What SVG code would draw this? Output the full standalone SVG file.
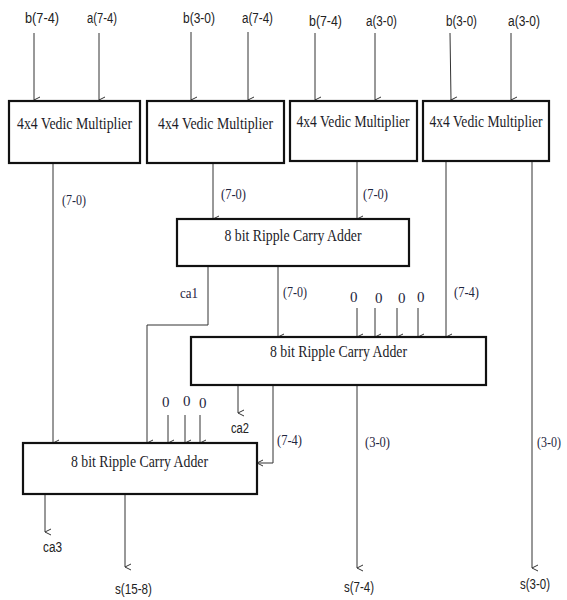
<svg xmlns="http://www.w3.org/2000/svg" width="567" height="600" viewBox="0 0 567 600">
<style>
.box{fill:#fff;stroke:#111;stroke-width:2.2}
.bt{font-family:"Liberation Serif",serif;font-size:16px;fill:#1c1c28;text-anchor:middle}
.in{font-family:"Liberation Sans",sans-serif;font-size:14px;fill:#222}
.lb{font-family:"Liberation Serif",serif;font-size:15px;fill:#1f2640}
.z{font-family:"Liberation Serif",serif;font-size:15px;fill:#1f2640}
.ln{fill:none;stroke:#333;stroke-width:1}
</style>
<defs>
<marker id="ah" markerWidth="8" markerHeight="8" refX="4" refY="7" orient="auto-start-reverse" markerUnits="userSpaceOnUse" viewBox="0 0 8 8">
<path d="M1 1 L4 7 L7 1" fill="none" stroke="#333" stroke-width="1"/>
</marker>
<marker id="al" markerWidth="8" markerHeight="8" refX="1" refY="4" orient="0" markerUnits="userSpaceOnUse" viewBox="0 0 8 8">
<path d="M7 1 L1 4 L7 7" fill="none" stroke="#333" stroke-width="1"/>
</marker>
</defs>
<g id="connectors" class="ln">
<path d="M34 33 V100" marker-end="url(#ah)"/>
<path d="M99 33 V100" marker-end="url(#ah)"/>
<path d="M191 32 V100" marker-end="url(#ah)"/>
<path d="M248 32 V100" marker-end="url(#ah)"/>
<path d="M315 33 V100" marker-end="url(#ah)"/>
<path d="M375 33 V100" marker-end="url(#ah)"/>
<path d="M450 33 L451 100" marker-end="url(#ah)"/>
<path d="M511 33 V100" marker-end="url(#ah)"/>
<path d="M53 163 V443" marker-end="url(#ah)"/>
<path d="M213 163 V219" marker-end="url(#ah)"/>
<path d="M357 162 V219" marker-end="url(#ah)"/>
<path d="M446 161 V337" marker-end="url(#ah)"/>
<path d="M532 161 V568" marker-end="url(#ah)"/>
<path d="M208 266 V325 H147 V443" marker-end="url(#ah)"/>
<path d="M278 266 V337" marker-end="url(#ah)"/>
<path d="M357 308 V337" marker-end="url(#ah)"/>
<path d="M375 308 V337" marker-end="url(#ah)"/>
<path d="M397 308 V337" marker-end="url(#ah)"/>
<path d="M418 308 V337" marker-end="url(#ah)"/>
<path d="M238 385 V413" marker-end="url(#ah)"/>
<path d="M273 385 V463 H257" marker-end="url(#al)"/>
<path d="M357 385 V568" marker-end="url(#ah)"/>
<path d="M168 415 V443" marker-end="url(#ah)"/>
<path d="M185 415 V443" marker-end="url(#ah)"/>
<path d="M200 415 V443" marker-end="url(#ah)"/>
<path d="M45 494 V532" marker-end="url(#ah)"/>
<path d="M125 494 V567" marker-end="url(#ah)"/>
</g>
<g id="mult1"><rect class="box" x="9" y="101" width="131" height="62"/><text class="bt" x="74.5" y="129" textLength="115" lengthAdjust="spacingAndGlyphs">4x4 Vedic Multiplier</text></g>
<g id="mult2"><rect class="box" x="147" y="101" width="137" height="62"/><text class="bt" x="215.5" y="129" textLength="115" lengthAdjust="spacingAndGlyphs">4x4 Vedic Multiplier</text></g>
<g id="mult3"><rect class="box" x="290" y="101" width="127" height="60"/><text class="bt" x="353" y="127" textLength="113" lengthAdjust="spacingAndGlyphs">4x4 Vedic Multiplier</text></g>
<g id="mult4"><rect class="box" x="423" y="101" width="126" height="60"/><text class="bt" x="486" y="127" textLength="113" lengthAdjust="spacingAndGlyphs">4x4 Vedic Multiplier</text></g>
<g id="adder1"><rect class="box" x="177" y="219" width="232" height="47"/><text class="bt" x="293" y="241" textLength="137" lengthAdjust="spacingAndGlyphs">8 bit Ripple Carry Adder</text></g>
<g id="adder2"><rect class="box" x="191" y="337" width="295" height="48"/><text class="bt" x="338.5" y="357" textLength="137" lengthAdjust="spacingAndGlyphs">8 bit Ripple Carry Adder</text></g>
<g id="adder3"><rect class="box" x="23" y="443" width="234" height="51"/><text class="bt" x="139.5" y="467" textLength="137" lengthAdjust="spacingAndGlyphs">8 bit Ripple Carry Adder</text></g>
<g id="labels">
<text class="in" x="25" y="23" textLength="34" lengthAdjust="spacingAndGlyphs">b(7-4)</text>
<text class="in" x="87" y="23" textLength="30" lengthAdjust="spacingAndGlyphs">a(7-4)</text>
<text class="in" x="183" y="23" textLength="32" lengthAdjust="spacingAndGlyphs">b(3-0)</text>
<text class="in" x="242" y="23" textLength="31" lengthAdjust="spacingAndGlyphs">a(7-4)</text>
<text class="in" x="309" y="26" textLength="33" lengthAdjust="spacingAndGlyphs">b(7-4)</text>
<text class="in" x="366" y="26" textLength="31" lengthAdjust="spacingAndGlyphs">a(3-0)</text>
<text class="in" x="446" y="26" textLength="31" lengthAdjust="spacingAndGlyphs">b(3-0)</text>
<text class="in" x="508" y="26" textLength="32" lengthAdjust="spacingAndGlyphs">a(3-0)</text>
<text class="lb" x="62" y="205" textLength="24" lengthAdjust="spacingAndGlyphs">(7-0)</text>
<text class="lb" x="221" y="199" textLength="25" lengthAdjust="spacingAndGlyphs">(7-0)</text>
<text class="lb" x="363" y="199" textLength="25" lengthAdjust="spacingAndGlyphs">(7-0)</text>
<text class="lb" x="180" y="298" textLength="18" lengthAdjust="spacingAndGlyphs">ca1</text>
<text class="lb" x="283" y="297" textLength="24" lengthAdjust="spacingAndGlyphs">(7-0)</text>
<text class="z" x="350" y="302">0</text>
<text class="z" x="375" y="303">0</text>
<text class="z" x="398" y="303">0</text>
<text class="z" x="417" y="302">0</text>
<text class="lb" x="454" y="297" textLength="25" lengthAdjust="spacingAndGlyphs">(7-4)</text>
<text class="z" x="162" y="407">0</text>
<text class="z" x="183" y="406">0</text>
<text class="z" x="199" y="408">0</text>
<text class="in" x="231" y="433" textLength="18" lengthAdjust="spacingAndGlyphs">ca2</text>
<text class="lb" x="277" y="445" textLength="25" lengthAdjust="spacingAndGlyphs">(7-4)</text>
<text class="lb" x="365" y="447" textLength="25" lengthAdjust="spacingAndGlyphs">(3-0)</text>
<text class="lb" x="537" y="447" textLength="24" lengthAdjust="spacingAndGlyphs">(3-0)</text>
<text class="in" x="43" y="552" textLength="19" lengthAdjust="spacingAndGlyphs">ca3</text>
<text class="in" x="115" y="594" textLength="37" lengthAdjust="spacingAndGlyphs">s(15-8)</text>
<text class="in" x="344" y="592" textLength="30" lengthAdjust="spacingAndGlyphs">s(7-4)</text>
<text class="in" x="520" y="589" textLength="30" lengthAdjust="spacingAndGlyphs">s(3-0)</text>
</g>
</svg>
